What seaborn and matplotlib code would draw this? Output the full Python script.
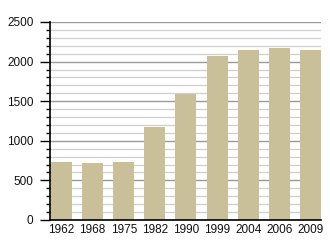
import matplotlib
matplotlib.use("Agg")
import matplotlib.pyplot as plt
import seaborn as sns
import pandas as pd
from matplotlib.ticker import MultipleLocator

years = ["1962", "1968", "1975", "1982", "1990", "1999", "2004", "2006", "2009"]
population = [732, 720, 732, 1178, 1591, 2071, 2147, 2172, 2147]

df = pd.DataFrame({"year": years, "pop": population})

sns.set_theme(style="white")
plt.rcParams["font.family"] = ["Liberation Sans", "DejaVu Sans"]

fig = plt.figure(figsize=(3.3, 2.5), dpi=100)
ax = fig.add_axes([50 / 330, 30 / 250, 271 / 330, 198 / 250])

ax.set_ylim(0, 2500)
ax.yaxis.set_major_locator(MultipleLocator(500))
ax.yaxis.set_minor_locator(MultipleLocator(100))
ax.grid(which="major", axis="y", color="#999999", linewidth=1.0)
ax.grid(which="minor", axis="y", color="#cfcfcf", linewidth=0.9)
ax.set_axisbelow(True)

sns.barplot(data=df, x="year", y="pop", color="#c9bf99", saturation=1,
            width=0.675, ax=ax, zorder=2, linewidth=0, edgecolor="none")

ax.set_xlim(-0.37, 8.34)
ax.set_xlabel("")
ax.set_ylabel("")
for s in ["top", "right"]:
    ax.spines[s].set_visible(False)
for s in ["left", "bottom"]:
    ax.spines[s].set_color("black")
    ax.spines[s].set_linewidth(1.2)
    ax.spines[s].set_zorder(3)

ax.tick_params(axis="y", which="major", direction="out", length=7, width=1,
               color="black", labelsize=8.5, pad=5, left=True)
ax.tick_params(axis="y", which="minor", direction="out", length=3, width=1,
               color="black", left=True)
ax.tick_params(axis="x", which="both", length=0, labelsize=8.5, pad=3)
for lbl in ax.get_xticklabels() + ax.get_yticklabels():
    lbl.set_color("#111111")

fig.savefig("out.png", dpi=100)
